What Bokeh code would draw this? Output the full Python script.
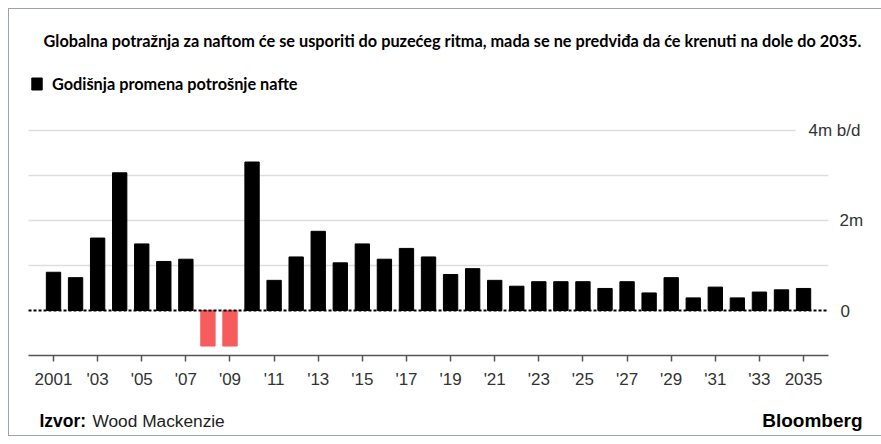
from bokeh.plotting import figure
from bokeh.models import (ColumnDataSource, Label, Legend, LegendItem,
                          FixedTicker, LinearAxis)
from bokeh.embed import file_html
from bokeh.resources import INLINE

# ---- data ----
years = list(range(2001, 2036))
change = [0.85, 0.73, 1.61, 3.06, 1.48, 1.09, 1.14, -0.79, -0.79, 3.30,
          0.67, 1.19, 1.76, 1.06, 1.48, 1.14, 1.38, 1.19, 0.80, 0.93,
          0.67, 0.54, 0.64, 0.64, 0.64, 0.49, 0.64, 0.39, 0.73, 0.28,
          0.52, 0.28, 0.41, 0.46, 0.49]
tick_years = list(range(2001, 2036, 2))
tick_labels = ["2001"] + ["'%02d" % (y % 100) for y in tick_years[1:-1]] + ["2035"]
grid_values = [1, 2, 3, 4]
y_labels = {4: "4m b/d", 2: "2m", 0: "0"}

title_text = ("Globalna potražnja za naftom će se usporiti do puzećeg ritma, "
              "mada se ne predviđa da će krenuti na dole do 2035.")
legend_text = "Godišnja promena potrošnje nafte"

X0, X1 = 1999.867, 2036.133  # plotting area extent (years)

colors = ["#f75c5c" if v < 0 else "#000000" for v in change]
src = ColumnDataSource(dict(x=years, top=change, color=colors))

p = figure(width=873, height=428,
           x_range=(1999.005, 2038.579), y_range=(-2.822, 6.689),
           output_backend="svg", toolbar_location=None,
           x_axis_location=None, y_axis_location=None, min_border=0)
p.styles = {"margin-left": "8px", "margin-top": "8px",
            "border-top": "1px solid #9aa4ae", "border-left": "1px solid #9aa4ae",
            "border-bottom": "1px solid #9aa4ae"}
p.outline_line_color = None
p.grid.visible = False
p.background_fill_color = "white"
p.border_fill_color = "white"

# gridlines (shorter top line to leave room for its label)
gx1 = [X1 if g < 4 else 2034.64 for g in grid_values]
p.segment(x0=[X0] * len(grid_values), x1=gx1, y0=grid_values, y1=grid_values,
          line_color="#dedede", line_width=1.5)

r = p.vbar(x="x", top="top", bottom=0, width=0.65, color="color", source=src)

p.segment(x0=[X0], x1=[X1], y0=[0], y1=[0], line_color="black",
          line_width=2, line_dash="3 2")

# x axis placed at y = -1
ax = LinearAxis(fixed_location=-1, bounds=(X0, X1))
ax.ticker = FixedTicker(ticks=tick_years)
ax.major_label_overrides = {y: l for y, l in zip(tick_years, tick_labels)}
ax.minor_tick_line_color = None
ax.major_tick_in = 0
ax.major_tick_out = 6
ax.major_tick_line_color = "#555555"
ax.major_tick_line_width = 1.5
ax.axis_line_color = "#555555"
ax.axis_line_width = 1.5
ax.major_label_text_font = "Liberation Sans"
ax.major_label_text_font_size = "17px"
ax.major_label_text_color = "#333333"
ax.major_label_standoff = 8
p.add_layout(ax, "below")

# right-side value labels
xs = {4: 799, 2: 830, 0: 831}
for v, t in y_labels.items():
    p.add_layout(Label(x=xs[v], y=v, x_units="screen", y_units="data", text=t,
                       text_font="Liberation Sans", text_font_size="17px",
                       text_color="#333333", text_baseline="middle",
                       text_align="left"))

# title
p.add_layout(Label(x=443, y=397, x_units="screen", y_units="screen",
                   text=title_text, text_font="Lato", text_font_style="bold",
                   text_font_size="16.3px", text_color="black",
                   text_align="center", text_baseline="middle"))

# legend
legend = Legend(items=[LegendItem(label=legend_text, renderers=[r], index=0)],
                location=(21, 344), orientation="horizontal",
                border_line_color=None, background_fill_alpha=0,
                padding=0, margin=0, glyph_width=13, glyph_height=15,
                label_height=15, label_standoff=9,
                label_text_font="Lato", label_text_font_style="bold",
                label_text_font_size="16.3px", label_text_color="black")
p.add_layout(legend, "center")

# footer
p.add_layout(Label(x=30, y=17, x_units="screen", y_units="screen",
                   text="Izvor:", text_font="Liberation Sans",
                   text_font_style="bold", text_font_size="17.5px",
                   text_color="black", text_baseline="middle"))
p.add_layout(Label(x=83, y=17, x_units="screen", y_units="screen",
                   text="Wood Mackenzie", text_font="Liberation Sans",
                   text_font_size="17.3px", text_color="#222222",
                   text_baseline="middle"))
p.add_layout(Label(x=853, y=17, x_units="screen", y_units="screen",
                   text="Bloomberg", text_font="Liberation Sans",
                   text_font_style="bold", text_font_size="19px",
                   text_color="black", text_baseline="middle",
                   text_align="right"))

open("out.html", "w").write(file_html(p, INLINE))
